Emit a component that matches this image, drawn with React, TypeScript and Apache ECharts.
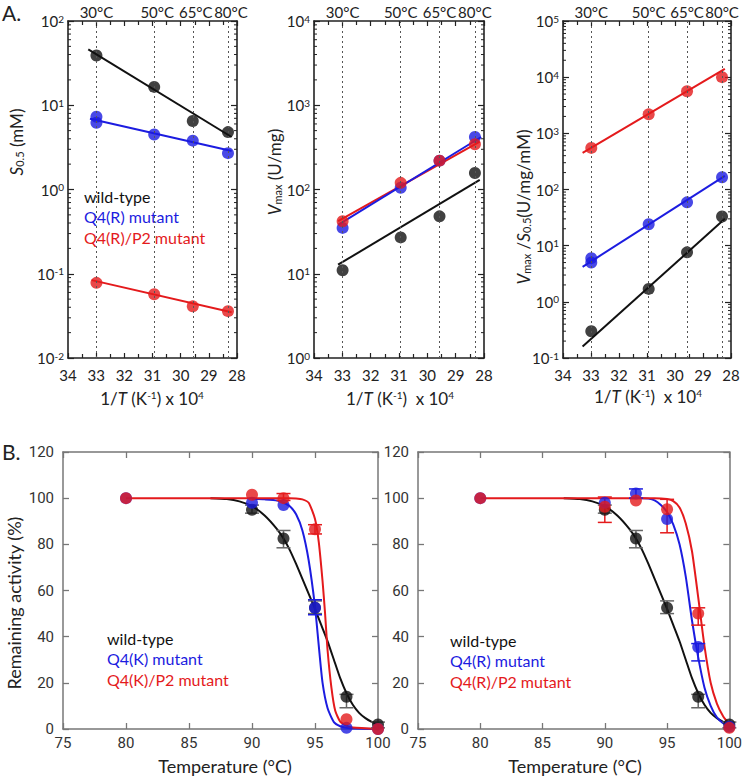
import React, { useEffect, useRef } from "react";
import * as echarts from "echarts";

// ---------- Panel A data (x = 1/T x 10^4) ----------
const INV_T = [32.99, 30.94, 29.57, 28.32];
const TEMP_LABELS = ["30°C", "50°C", "65°C", "80°C"];

const S05_WT = [39, 16.5, 6.5, 4.8];
const S05_Q4R = [7.3, 4.5, 3.8, 2.7];
const S05_Q4R_REP = [[32.99, 6.2]];
const S05_P2 = [0.078, 0.057, 0.041, 0.036];
const S05_FIT_WT = [[33.28, 46], [28.19, 4.2]];
const S05_FIT_Q4R = [[33.22, 6.9], [28.19, 2.87]];
const S05_FIT_P2 = [[33.16, 0.084], [28.19, 0.035]];

const VMAX_WT = [11, 27, 48, 157];
const VMAX_Q4R = [35, 105, 220, 420];
const VMAX_P2 = [42, 120, 220, 345];
const VMAX_FIT_WT = [[33.15, 12.8], [28.15, 130]];
const VMAX_FIT_Q4R = [[33.15, 38], [28.1, 420]];
const VMAX_FIT_P2 = [[33.15, 42], [28.15, 370]];

const EFF_WT = [0.3, 1.7, 7.6, 33];
const EFF_Q4R = [6.0, 24, 59, 165];
const EFF_Q4R_REP = [[32.99, 5.0]];
const EFF_P2 = [550, 2180, 5600, 10000];
const EFF_FIT_WT = [[33.3, 0.16], [28.22, 30]];
const EFF_FIT_Q4R = [[33.3, 4.2], [28.22, 175]];
const EFF_FIT_P2 = [[33.3, 450], [28.22, 14000]];

const LOG_MINOR = [2, 3, 4, 5, 6, 7, 8, 9];

// ---------- Panel B data ----------
const T_WT = [90, 92.5, 95, 97.5, 100];
const ACT_WT = [95, 82.5, 52.5, 14, 2];
const T_MUT = [80, 90, 92.5, 95, 97.5, 100];
const ACT_Q4K = [100, 98, 97, 52.5, 0.5, 0];
const ACT_Q4K_P2 = [100, 101.5, 100, 86.5, 4.2, 0];
const ACT_Q4R = [100, 98, 102, 91, 35.5, 1];
const ACT_Q4R_P2 = [100, 96.3, 99, 95.2, 50, 0.5];

const ERR_WT = [[90, 93.5, 97], [92.5, 78.5, 86], [95, 50, 55.5], [97.5, 9.2, 15], [100, 0.5, 3]];
const ERR_Q4K = [[95, 49.5, 56]];
const ERR_Q4K_P2 = [[92.5, 99, 102], [95, 84.5, 88.5]];
const ERR_Q4R = [[92.5, 100, 104], [97.5, 29.5, 37]];
const ERR_Q4R_P2 = [[90, 89.5, 100.5], [95, 85, 99.5], [97.5, 45, 52.5]];

const CURVE_WT = [[86.7, 100], [88, 99.6], [89, 98.6], [90, 96.5], [91, 92.5], [92, 86.5], [92.5, 82.5], [93, 77.5], [93.5, 71.5], [94, 65], [94.5, 58.5], [95, 52], [95.5, 45], [96, 38], [96.5, 30], [97, 22], [97.5, 15.5], [98, 10.5], [98.5, 7], [99, 4.7], [99.5, 3.1], [100, 2]];
const CURVE_Q4K = [[90, 99.8], [91, 99.5], [92, 99], [92.5, 98], [93, 96.5], [93.5, 93], [94, 86], [94.5, 73], [95, 53], [95.3, 36], [95.6, 20], [96, 9], [96.5, 3], [97, 1.2], [97.5, 0.5], [98, 0.2], [100, 0]];
const CURVE_Q4K_P2 = [[80, 100], [93, 100], [93.5, 99.9], [94, 99.5], [94.5, 98], [95, 91], [95.3, 81], [95.6, 64], [95.8, 50], [96, 34], [96.3, 18], [96.6, 8], [97, 3.2], [97.5, 1.4], [98, 0.6], [100, 0]];
const CURVE_Q4R = [[92, 100], [93, 100], [93.5, 99.8], [94, 99], [94.5, 97], [95, 94], [95.5, 88.5], [96, 80], [96.5, 66], [97, 47], [97.5, 31], [98, 18], [98.5, 10], [99, 5], [99.5, 2.5], [100, 1.2]];
const CURVE_Q4R_P2 = [[80, 100], [94, 100], [95, 99.6], [95.5, 98.7], [96, 96], [96.5, 89], [97, 77], [97.5, 57], [98, 36], [98.5, 20], [99, 11], [99.5, 5.5], [100, 2]];

const FONT = "Lato, 'Open Sans', sans-serif";
const BLACK = "#111111";
const BLUE = "#1c1ce0";
const RED = "#e41a1c";

const GRIDS = [
  { left: 68, top: 21, width: 169, height: 337 },
  { left: 314, top: 21, width: 170, height: 337 },
  { left: 563, top: 21, width: 168, height: 337 },
  { left: 63, top: 452, width: 315, height: 277 },
  { left: 418, top: 452, width: 314, height: 277 },
];
const A_YRANGE = [[0.01, 100], [1, 10000], [0.1, 100000]];

export default function App() {
  const ref = useRef<HTMLDivElement>(null);
  useEffect(() => {
    document.body.style.margin = "0";
    const chart = echarts.init(ref.current!, null, { renderer: "svg" });

    const xAxis: any[] = [];
    const yAxis: any[] = [];
    const aLine = { show: true, onZero: false, lineStyle: { color: "#222", width: 1.6 } };
    const bLine = { show: true, onZero: false, lineStyle: { color: "#777", width: 1.5 } };

    for (let g = 0; g < 3; g++) {
      for (const pos of ["bottom", "top"]) {
        xAxis.push({
          type: "value", gridIndex: g, min: 28, max: 34, interval: 1, inverse: true, position: pos,
          axisLine: aLine,
          axisTick: { show: true, inside: true, length: 5, lineStyle: { color: "#222", width: 1.2 } },
          minorTick: { show: true, splitNumber: 2, length: 4, lineStyle: { color: "#222", width: 1.2 } },
          axisLabel: { show: pos === "bottom", fontSize: 15, color: "#222", fontFamily: FONT, margin: 9 },
          splitLine: { show: false },
        });
      }
      for (const pos of ["left", "right"]) {
        yAxis.push({
          type: "log", logBase: 10, gridIndex: g, min: A_YRANGE[g][0], max: A_YRANGE[g][1], position: pos,
          axisLine: aLine,
          axisTick: { show: true, inside: true, length: 6, lineStyle: { color: "#222", width: 1.2 } },
          axisLabel: {
            show: pos === "left", margin: 4,
            formatter: (v: number) => `{b|10}{e|${Math.round(Math.log10(v))}}`,
            rich: {
              b: { fontSize: 15, color: "#222", fontFamily: FONT },
              e: { fontSize: 10, color: "#222", fontFamily: FONT, verticalAlign: "top" },
            },
          },
          splitLine: { show: false },
        });
      }
    }
    for (let g = 3; g < 5; g++) {
      for (const pos of ["bottom", "top"]) {
        xAxis.push({
          type: "value", gridIndex: g, min: 75, max: 100, interval: 5, position: pos,
          axisLine: bLine,
          axisTick: { show: true, inside: true, length: 6, lineStyle: { color: "#777", width: 1.3 } },
          axisLabel: { show: pos === "bottom", fontSize: 15, color: "#333", fontFamily: "Roboto", margin: 6 },
          splitLine: { show: false },
        });
      }
      for (const pos of ["left", "right"]) {
        yAxis.push({
          type: "value", gridIndex: g, min: 0, max: 120, interval: 20, position: pos,
          axisLine: bLine,
          axisTick: { show: true, inside: true, length: 6, lineStyle: { color: "#777", width: 1.3 } },
          axisLabel: { show: pos === "left", fontSize: 15, color: "#333", fontFamily: "Roboto", margin: 9 },
          splitLine: { show: false },
        });
      }
    }

    const series: any[] = [];
    const pts = (vals: number[], xs: number[]) => xs.map((x, i) => [x, vals[i]]);

    const aPanels = [
      { pts: [S05_WT, S05_Q4R, S05_P2], reps: [[], S05_Q4R_REP, []], fits: [S05_FIT_WT, S05_FIT_Q4R, S05_FIT_P2] },
      { pts: [VMAX_WT, VMAX_Q4R, VMAX_P2], reps: [[], [], []], fits: [VMAX_FIT_WT, VMAX_FIT_Q4R, VMAX_FIT_P2] },
      { pts: [EFF_WT, EFF_Q4R, EFF_P2], reps: [[], EFF_Q4R_REP, []], fits: [EFF_FIT_WT, EFF_FIT_Q4R, EFF_FIT_P2] },
    ];
    const colors = [BLACK, BLUE, RED];
    aPanels.forEach((p, g) => {
      const ax = { xAxisIndex: 2 * g, yAxisIndex: 2 * g };
      series.push({
        type: "line", ...ax, data: [], silent: true,
        markLine: {
          silent: true, symbol: "none", label: { show: false },
          lineStyle: { type: [2, 3], color: "#555", width: 1 },
          data: INV_T.map((x) => ({ xAxis: x })),
        },
      });
      const minor: number[][] = [];
      const e0 = Math.round(Math.log10(A_YRANGE[g][0]));
      const e1 = Math.round(Math.log10(A_YRANGE[g][1]));
      for (let e = e0; e < e1; e++) for (const m of LOG_MINOR) minor.push([31, m * Math.pow(10, e)]);
      series.push({
        type: "custom", ...ax, data: minor, silent: true, clip: false, encode: { x: 0, y: 1 },
        renderItem: (params: any, api: any) => {
          const cs = params.coordSys;
          const y = api.coord([api.value(0), api.value(1)])[1];
          const st = { stroke: "#222", lineWidth: 1 };
          return {
            type: "group",
            children: [
              { type: "line", shape: { x1: cs.x, y1: y, x2: cs.x + 3, y2: y }, style: st },
              { type: "line", shape: { x1: cs.x + cs.width - 3, y1: y, x2: cs.x + cs.width, y2: y }, style: st },
            ],
          };
        },
      });
      [2, 1, 0].forEach((k) => {
        series.push({
          type: "line", ...ax, data: p.fits[k], showSymbol: false, z: 3,
          lineStyle: { color: colors[k], width: 2 }, silent: true,
        });
      });
      [0, 1, 2].forEach((k) => {
        series.push({
          type: "scatter", ...ax, data: [...pts(p.pts[k], INV_T), ...p.reps[k]], symbolSize: 12, z: 4,
          itemStyle: { color: colors[k] }, silent: true,
        });
      });
    });

    const bPanels = [
      { curves: [CURVE_WT, CURVE_Q4K, CURVE_Q4K_P2], pts: [ACT_WT, ACT_Q4K, ACT_Q4K_P2], errs: [ERR_WT, ERR_Q4K, ERR_Q4K_P2] },
      { curves: [CURVE_WT, CURVE_Q4R, CURVE_Q4R_P2], pts: [ACT_WT, ACT_Q4R, ACT_Q4R_P2], errs: [ERR_WT, ERR_Q4R, ERR_Q4R_P2] },
    ];
    const errColors = ["#666", BLUE, RED];
    bPanels.forEach((p, j) => {
      const g = 3 + j;
      const ax = { xAxisIndex: 2 * g, yAxisIndex: 2 * g };
      [0, 1, 2].forEach((k) => {
        series.push({
          type: "line", ...ax, data: p.curves[k], showSymbol: false, smooth: 0.2, z: 2,
          lineStyle: { color: colors[k], width: 2 }, silent: true,
        });
      });
      [0, 1, 2].forEach((k) => {
        const c = errColors[k];
        series.push({
          type: "custom", ...ax, data: p.errs[k], silent: true, z: 3, encode: { x: 0, y: [1, 2] },
          renderItem: (_params: any, api: any) => {
            const x = api.value(0);
            const lo = api.coord([x, api.value(1)]);
            const hi = api.coord([x, api.value(2)]);
            const w = 7;
            const st = { stroke: c, lineWidth: 1.5 };
            return {
              type: "group",
              children: [
                { type: "line", shape: { x1: lo[0], y1: lo[1], x2: hi[0], y2: hi[1] }, style: st },
                { type: "line", shape: { x1: lo[0] - w, y1: lo[1], x2: lo[0] + w, y2: lo[1] }, style: st },
                { type: "line", shape: { x1: hi[0] - w, y1: hi[1], x2: hi[0] + w, y2: hi[1] }, style: st },
              ],
            };
          },
        });
      });
      [0, 1, 2].forEach((k) => {
        series.push({
          type: "scatter", ...ax, data: pts(p.pts[k], k === 0 ? T_WT : T_MUT), symbolSize: 12, z: 4,
          itemStyle: { color: colors[k] }, silent: true,
        });
      });
    });

    chart.setOption({
      animation: false,
      grid: GRIDS.map((g) => ({ ...g, containLabel: false })),
      xAxis,
      yAxis,
      series,
    });

    const rich = {
      n: { fontSize: 17, color: "#222", fontFamily: FONT },
      i: { fontSize: 17, color: "#222", fontFamily: FONT, fontStyle: "italic" },
      sub: { fontSize: 11, color: "#222", fontFamily: FONT, verticalAlign: "bottom" },
      sup: { fontSize: 10, color: "#222", fontFamily: FONT, verticalAlign: "top" },
    };
    const graphic: any[] = [];
    const txt = (x: number, y: number, text: string, opts: any = {}) => {
      graphic.push({
        type: "text", x, y, rotation: opts.rotation || 0, silent: true,
        style: {
          text, rich: opts.rich, fill: opts.fill || "#222", fontSize: opts.fontSize || 16,
          fontFamily: opts.fontFamily || FONT, align: opts.align || "left", verticalAlign: "middle",
          fontWeight: opts.fontWeight || "normal",
        },
      });
    };
    for (let g = 0; g < 3; g++) {
      INV_T.forEach((x, i) => {
        const px = chart.convertToPixel({ xAxisIndex: 2 * g } as any, x) as unknown as number;
        txt(px + (g === 0 && i > 0 ? 3 : 0), 12, TEMP_LABELS[i], { align: "center", fontSize: 15 });
      });
    }
    txt(2, 12, "A.", { fontSize: 21 });
    txt(2, 451, "B.", { fontSize: 21 });
    txt(16, 142, "{i|S}{sub|0.5}{n| (mM)}", { rich, align: "center", rotation: Math.PI / 2 });
    txt(274, 172, "{i|V}{sub|max}{n| (U/mg)}", { rich, align: "center", rotation: Math.PI / 2 });
    txt(523, 207, "{i|V}{sub|max}{n| /}{i|S}{sub|0.5}{n|(U/mg/mM)}", { rich, align: "center", rotation: Math.PI / 2 });
    const xt = "{n|1/}{i|T}{n| (K}{sup|-1}{n|) x 10}{sup|4}";
    const xt2 = "{n|1/}{i|T}{n| (K}{sup|-1}{n|)  x 10}{sup|4}";
    txt(152, 398, xt, { rich, align: "center" });
    txt(400, 398, xt2, { rich, align: "center" });
    txt(648, 396, xt2, { rich, align: "center" });
    const leg = (x: number, y: number, names: string[]) => {
      names.forEach((n, k) => txt(x, y + 20.5 * k, n, { fill: colors[k], fontSize: 16 }));
    };
    leg(84, 196, ["wild-type", "Q4(R) mutant", "Q4(R)/P2 mutant"]);
    leg(107, 638, ["wild-type", "Q4(K) mutant", "Q4(K)/P2 mutant"]);
    leg(450, 640, ["wild-type", "Q4(R) mutant", "Q4(R)/P2 mutant"]);
    txt(14, 603, "Remaining activity (%)", { align: "center", rotation: Math.PI / 2, fontSize: 18 });
    txt(225, 766, "Temperature (°C)", { align: "center", fontSize: 18 });
    txt(575, 766, "Temperature (°C)", { align: "center", fontSize: 18 });

    chart.setOption({ graphic });

    return () => chart.dispose();
  }, []);
  return <div ref={ref} style={{ width: 745, height: 776 }} />;
}
